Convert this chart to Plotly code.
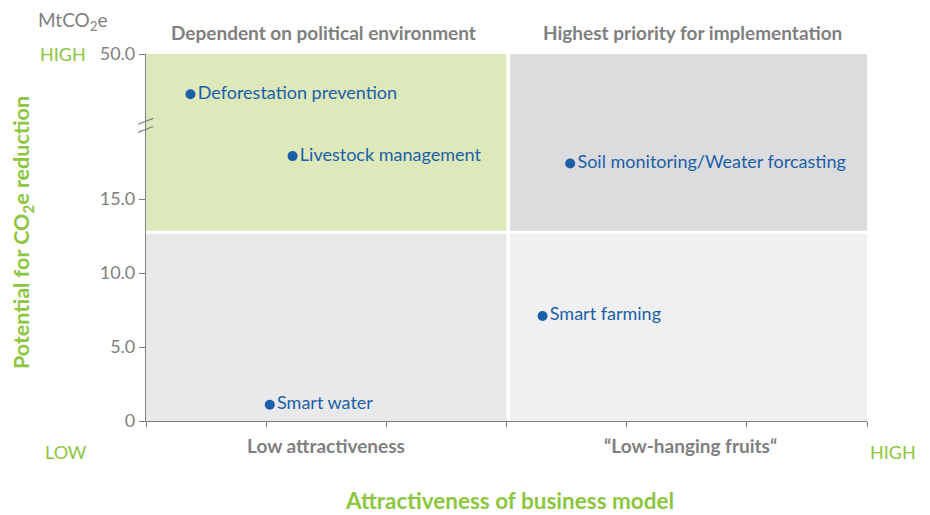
import plotly.graph_objects as go

# Portfolio positions (x: attractiveness 0-6, y: MtCO2e)
names = ["Deforestation prevention", "Livestock management",
         "Soil monitoring/Weater forcasting", "Smart farming", "Smart water"]
attract = [0.37, 1.22, 3.53, 3.30, 1.03]
co2 = [33.0, 17.9, 17.4, 7.1, 1.1]

ytick_vals = [0, 5, 10, 15, 50]
ytick_text = ["0", "5.0", "10.0", "15.0", "50.0"]

# broken y axis: linear up to 20, compressed 20-50
BREAK = 20.0
TOP = 24.8


def y_disp(v):
    if v <= BREAK:
        return v
    return BREAK + (v - BREAK) * (TOP - BREAK) / (50.0 - BREAK)


GREEN = "#8cc63f"
GREY_TXT = "#7f7f7f"
BLUE = "#1a5fa8"
FONT = "Lato"

# page body adds an 8px offset; plot area in page pixels is 146-867 x 54-421
OFF = 8
W, H = 922, 507
L, R, T, B = 146 - OFF, W - (867 - OFF), 54 - OFF, H - (421 - OFF)

fig = go.Figure()

# quadrant backgrounds
quads = [
    (0, 3.0, 12.85, TOP, "#dde8bb"),
    (3.03, 6, 12.85, TOP, "#dcdcde"),
    (0, 3.0, 0, 12.65, "#e9e9eb"),
    (3.03, 6, 0, 12.65, "#f0f0f2"),
]
for x0, x1, y0, y1, c in quads:
    fig.add_shape(type="rect", x0=x0, x1=x1, y0=y0, y1=y1,
                  fillcolor=c, line_width=0, layer="below")

fig.add_trace(go.Scatter(
    x=attract, y=[y_disp(v) for v in co2],
    mode="markers+text", text=names, textposition="middle right",
    marker=dict(size=10, color=BLUE),
    textfont=dict(family=FONT, size=18, color=BLUE),
    hoverinfo="skip", showlegend=False, cliponaxis=False,
))

# axis break marks (paper refs so they are not clipped)
for dy in (-0.3, 0.25):
    yc = (20.0 + dy) / TOP
    fig.add_shape(type="line", xref="paper", yref="paper",
                  x0=-0.011, x1=0.010, y0=yc - 0.008, y1=yc + 0.008,
                  line=dict(color=GREY_TXT, width=1.2))

fig.update_xaxes(range=[0, 6], tickvals=list(range(7)), ticktext=[""] * 7,
                 ticks="outside", ticklen=5, tickcolor=GREY_TXT,
                 showline=True, linecolor=GREY_TXT, linewidth=1.2,
                 showgrid=False, zeroline=False, fixedrange=True)
fig.update_yaxes(range=[0, TOP], tickvals=[y_disp(v) for v in ytick_vals],
                 ticktext=ytick_text, ticks="outside", ticklen=6,
                 tickcolor=GREY_TXT, showline=True, linecolor=GREY_TXT,
                 linewidth=1.2, showgrid=False, zeroline=False,
                 tickfont=dict(family=FONT, size=18, color=GREY_TXT))

# text placed by page pixel position (x, y, text, size, color)
labels = [
    (323, 33, "<b>Dependent on political environment</b>", 19, GREY_TXT),
    (692, 33, "<b>Highest priority for implementation</b>", 19, GREY_TXT),
    (326, 445, "<b>Low attractiveness</b>", 19, GREY_TXT),
    (690, 445, "<b>“Low-hanging fruits“</b>", 19, GREY_TXT),
    (509, 500, "<b>Attractiveness of business model</b>", 22.5, GREEN),
    (66, 452, "LOW", 18, GREEN),
    (893, 452, "HIGH", 18, GREEN),
    (63, 54, "HIGH", 18, GREEN),
    (73, 21, "MtCO<sub>2</sub>e", 19, GREY_TXT),
]
pw, ph = W - L - R, H - T - B
for px_, py_, txt, size, color in labels:
    fig.add_annotation(
        x=(px_ - OFF - L) / pw, y=(H - B - (py_ - OFF)) / ph,
        xref="paper", yref="paper", text=txt, showarrow=False,
        font=dict(family=FONT, size=size, color=color),
        xanchor="center", yanchor="middle")

fig.add_annotation(x=(22 - OFF - L) / pw, y=(H - B - (233 - OFF)) / ph,
                   xref="paper", yref="paper", showarrow=False,
                   text="<b>Potential for CO<sub>2</sub>e reduction</b>", textangle=-90,
                   font=dict(family=FONT, size=21.5, color=GREEN),
                   xanchor="center", yanchor="middle")

fig.update_layout(
    width=W, height=H,
    margin=dict(l=L, r=R, t=T, b=B),
    paper_bgcolor="white", plot_bgcolor="white",
    font=dict(family=FONT, color=GREY_TXT),
)

fig.write_html("out.html")
